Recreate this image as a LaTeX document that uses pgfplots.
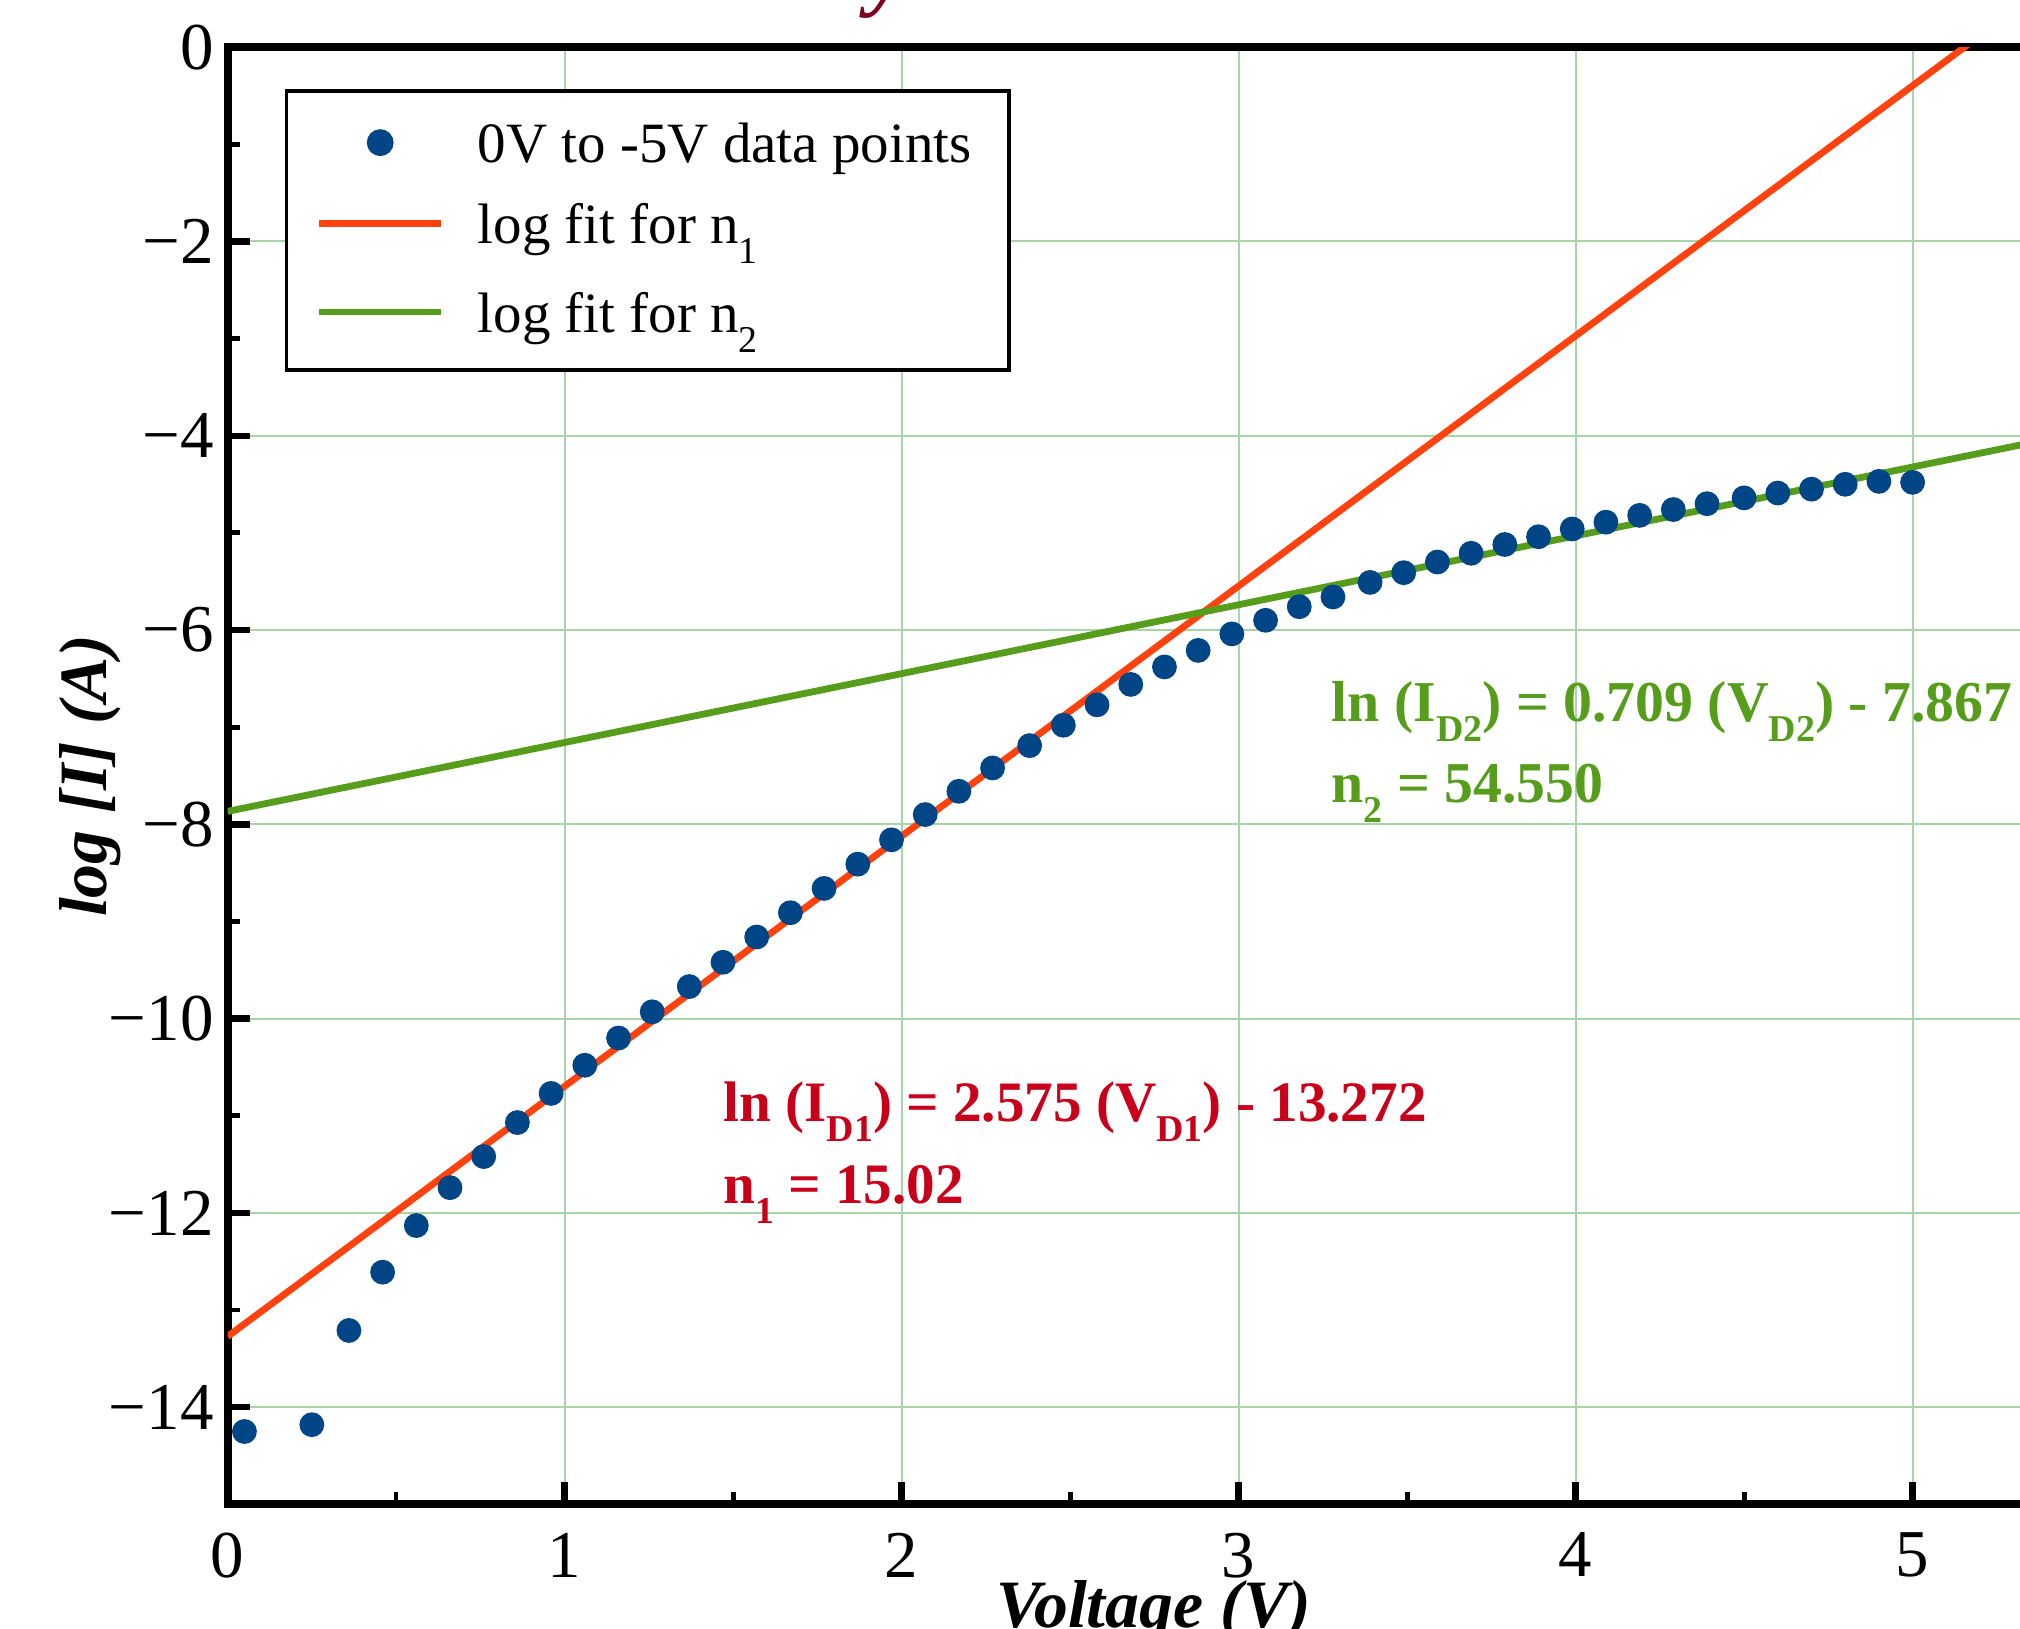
\documentclass[border=0pt]{standalone}
\usepackage{fontspec}
\setmainfont{Liberation Serif}
\usepackage{pgfplots}
\usepackage{pgfplotstable}
\pgfplotsset{compat=1.18}

\definecolor{dblue}{HTML}{004586}
\definecolor{forange}{HTML}{FF420E}
\definecolor{fgreen}{HTML}{579D1C}
\definecolor{tred}{HTML}{C8001A}
\definecolor{titlered}{HTML}{7E0021}
\definecolor{gridgreen}{HTML}{A8D5A8}

% dropped subscript, as in the original figure
\newcommand{\sub}[1]{\raisebox{-5bp}{\fontsize{9.5}{9.5}\selectfont #1}}

% V (V) vs ln I
\pgfplotstableread{
v lnI
0.05 -14.25
0.25 -14.18
0.36 -13.21
0.46 -12.61
0.56 -12.13
0.66 -11.74
0.76 -11.42
0.86 -11.07
0.96 -10.77
1.06 -10.48
1.16 -10.20
1.26 -9.93
1.37 -9.67
1.47 -9.42
1.57 -9.16
1.67 -8.91
1.77 -8.66
1.87 -8.41
1.97 -8.16
2.07 -7.90
2.17 -7.66
2.27 -7.42
2.38 -7.19
2.48 -6.98
2.58 -6.77
2.68 -6.56
2.78 -6.38
2.88 -6.21
2.98 -6.04
3.08 -5.90
3.18 -5.76
3.28 -5.66
3.39 -5.51
3.49 -5.41
3.59 -5.30
3.69 -5.21
3.79 -5.12
3.89 -5.04
3.99 -4.96
4.09 -4.89
4.19 -4.82
4.29 -4.76
4.39 -4.70
4.50 -4.64
4.60 -4.59
4.70 -4.55
4.80 -4.50
4.90 -4.47
5.00 -4.48
}\datapts

\begin{document}
\begin{tikzpicture}
\begin{axis}[
  at={(0,0)}, anchor=south west,
  scale only axis, width=505.5bp, height=364.31bp,
  xmin=0, xmax=6, ymin=-15, ymax=0,
  xtick={0,...,6}, xticklabels={0,1,2,3,4,5,6},
  ytick={-14,-12,...,0}, yticklabels={−14,−12,−10,−8,−6,−4,−2,0},
  minor x tick num=1, minor y tick num=1,
  tick pos=left, tick align=inside,
  major tick length=5.6bp, minor tick length=3.2bp,
  every major tick/.append style={line width=1.6bp, black},
  every minor tick/.append style={line width=1.2bp, black},
  grid=major, major grid style={line width=0.5bp, gridgreen},
  axis line style={line width=2bp},
  tick label style={font=\fontsize{16.8}{16.8}\selectfont},
  xticklabel style={yshift=-3.6bp},
  xlabel={Voltage (V)}, ylabel={log [I] (A)},
  label style={font=\fontsize{17}{17}\selectfont\bfseries\itshape},
  xlabel style={at={(axis description cs:0.458,-0.0845)}, anchor=base},
  ylabel style={at={(axis description cs:-0.0681,0.5)}, anchor=center},
  legend style={at={(axis description cs:0.0283,0.97104)}, anchor=north west,
    draw=black, line width=0.9bp, fill=white,
    inner xsep=7.3bp, inner ysep=6bp, row sep=0bp,
    font=\fontsize{14.3}{14.3}\selectfont,
    cells={anchor=base west, inner sep=0bp},
    /tikz/every odd column/.append style={column sep=6.3bp}},
  legend image code/.code={\draw[mark repeat=2,mark phase=2,#1]
    plot coordinates {(0bp,5bp) (15.25bp,5bp) (30.5bp,5bp)};},
]
\addplot[only marks, mark=*, mark size=2.9bp, dblue,
  mark options={fill=dblue, draw=dblue}] table[x=v, y=lnI] {\datapts};
\addlegendentry{0V to -5V data points}

\addplot[forange, line width=1.7bp] coordinates {(0,-13.272) (5.6,1.148)};
\addlegendentry{\rule{0pt}{14.8bp}log fit for n\sub{1}}

\addplot[fgreen, line width=1.7bp] coordinates {(0,-7.867) (6,-3.613)};
\addlegendentry{\rule[-7.8bp]{0pt}{24.4bp}log fit for n\sub{2}}

\node[anchor=base west, inner sep=0pt, text=tred, font=\fontsize{14.35}{14.35}\selectfont\bfseries]
  at (axis cs:1.469,-11.06) {ln (I\sub{D1}) = 2.575 (V\sub{D1}) - 13.272};
\node[anchor=base west, inner sep=0pt, text=tred, font=\fontsize{14.35}{14.35}\selectfont\bfseries]
  at (axis cs:1.469,-11.90) {n\sub{1} = 15.02};
\node[anchor=base west, inner sep=0pt, text=fgreen, font=\fontsize{14.5}{14.5}\selectfont\bfseries]
  at (axis cs:3.274,-6.944) {ln (I\sub{D2}) = 0.709 (V\sub{D2}) - 7.867};
\node[anchor=base west, inner sep=0pt, text=fgreen, font=\fontsize{14.5}{14.5}\selectfont\bfseries]
  at (axis cs:3.274,-7.778) {n\sub{2} = 54.550};
\end{axis}
% the title above is cut off by the frame; only the tail of its "y" shows
\node[anchor=base, inner sep=0pt, text=titlered,
  font=\fontsize{22}{22}\selectfont\bfseries\itshape] at (165.2bp,376.09bp) {y};
\pgfresetboundingbox
\useasboundingbox (-56.9bp,-31.15bp) rectangle (448.1bp,376.09bp);
\end{tikzpicture}
\end{document}
